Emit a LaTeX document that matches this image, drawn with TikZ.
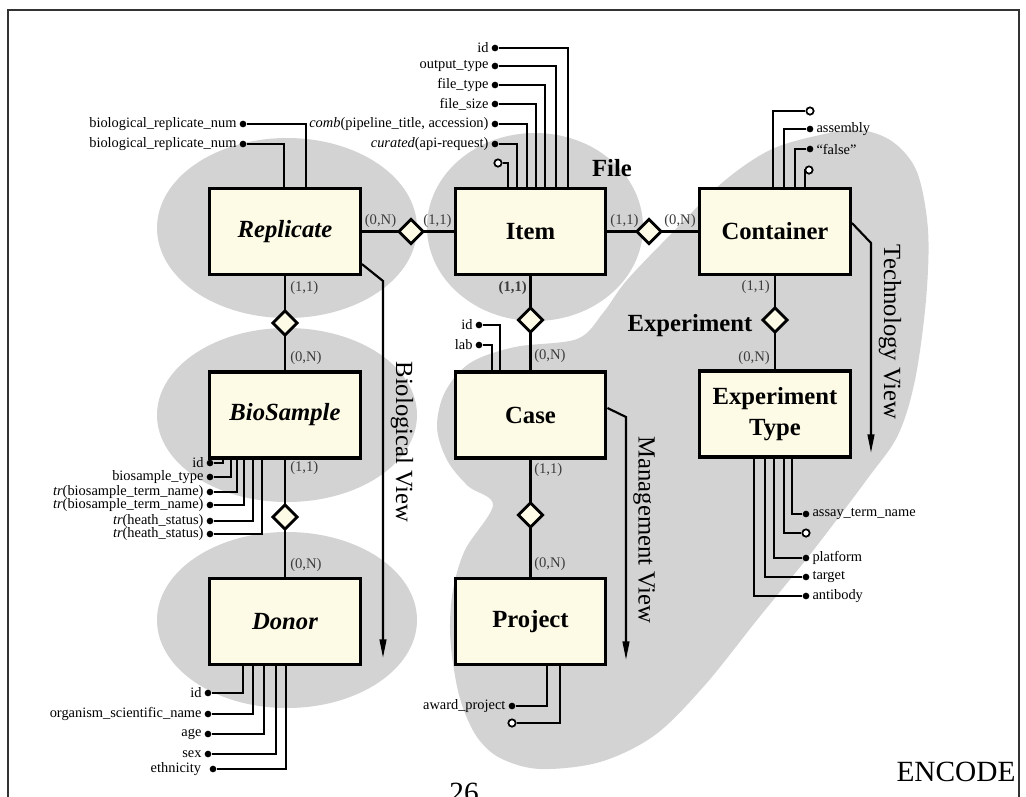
\documentclass[tikz,border=0pt]{standalone}
\usepackage{fontspec}
\setmainfont{Liberation Serif}
\usetikzlibrary{shapes.geometric,arrows.meta,calc}

\definecolor{blobgray}{RGB}{211,211,211}
\definecolor{entfill}{RGB}{253,250,230}
\definecolor{cardgray}{RGB}{60,60,60}

\begin{document}
\begin{tikzpicture}[x=0.75pt,y=-0.75pt,
  entity/.style={draw=black, line width=2.4pt, fill=entfill, minimum width=113pt,
    minimum height=64.5pt, inner sep=0pt, align=center,
    font=\fontsize{18.5}{23}\selectfont\bfseries},
  rel/.style={diamond, draw=black, line width=2.2pt, fill=entfill,
    minimum width=16pt, minimum height=16pt, inner sep=0pt},
  link/.style={line width=2.2pt},
  attr/.style={line width=1.5pt},
  dot/.style={circle, fill=black, minimum size=5pt, inner sep=0pt, label distance=0pt},
  odot/.style={circle, draw=black, fill=white, line width=1.3pt, minimum size=5.5pt, inner sep=0pt},
  lbl/.style={font=\fontsize{10.8}{12}\selectfont, inner xsep=2pt, inner ysep=0pt},
  card/.style={font=\fontsize{11}{12}\selectfont, text=cardgray, inner sep=0pt},
  view/.style={line width=1.6pt, -{Triangle[length=14pt,width=5pt]}},
  viewlbl/.style={font=\fontsize{18.5}{20}\selectfont, rotate=-90, inner sep=0pt},
  title/.style={font=\fontsize{18.5}{20}\selectfont\bfseries, inner sep=0pt},
  blob/.style={fill=blobgray, draw=none}]

\useasboundingbox (0,0) rectangle (1026,797);
\clip (0,0) rectangle (1026,797);

% ---- shaded groupings ----
\fill[blob] (287,228) ellipse [x radius=130, y radius=90];
\fill[blob] (287,415) ellipse [x radius=130, y radius=87];
\fill[blob] (287,620) ellipse [x radius=130, y radius=88];
\fill[blob] (535,227) ellipse [x radius=108, y radius=94];
\fill[blob] plot[smooth cycle, tension=0.55] coordinates {
  (860,130) (893,142) (917,172) (928,230) (926,300) (915,380) (898,435)
  (868,478) (812,552) (757,620) (705,685) (655,735) (600,762) (540,769)
  (500,758) (477,737) (462,705) (454,670) (450,630) (453,590) (465,550)
  (493,505) (468,486) (447,460) (437,427) (445,392) (470,363) (515,347)
  (577,339) (603,313) (627,280) (675,230) (723,182) (770,150) (820,135)};

% ---- page frame ----
\draw[line width=1.5pt, black!80] (8,830) -- (8,9.5) -- (1019,9.5) -- (1019,830);

% ---- entities ----
\node[entity] (rep)  at (285,231.5)   {\itshape Replicate};
\node[entity] (item) at (530.5,231.5) {Item};
\node[entity] (con)  at (775,231.5)   {Container};
\node[entity] (bio)  at (285,415)     {\itshape BioSample};
\node[entity] (case) at (530.5,415)   {Case};
\node[entity] (ext)  at (775,414)     {Experiment\\Type};
\node[entity] (don)  at (285,621.5)   {\itshape Donor};
\node[entity] (proj) at (530.5,621.5) {Project};

% ---- relationships ----
\node[rel] (d1) at (411,231.5) {};
\node[rel] (d2) at (649,231.5) {};
\node[rel] (d3) at (285,323) {};
\node[rel] (d4) at (530.5,320) {};
\node[rel] (d5) at (775,320) {};
\node[rel] (d6) at (285,517) {};
\node[rel] (d7) at (530.5,515) {};

\draw[link] (rep) -- (d1) -- (item);
\draw[link] (item) -- (d2) -- (con);
\draw[link] (rep) -- (d3) -- (bio);
\draw[link] (bio) -- (d6) -- (don);
\draw[link] (item) -- (d4) -- (case);
\draw[link] (case) -- (d7) -- (proj);
\draw[link] (con) -- (d5) -- (ext);

% redraw diamonds on top of the links
\foreach \d in {d1,d2,d3,d4,d5,d6,d7} {
  \path[fill=entfill, draw=black, line width=2.2pt]
    (\d.north) -- (\d.east) -- (\d.south) -- (\d.west) -- cycle;
}

% ---- cardinalities ----
\node[card] (c1) at (380.5,221) {(0,N)};
\node[card] (c2) at (437.5,221) {(1,1)};
\node[card] (c3) at (624.5,221) {(1,1)};
\node[card] (c4) at (680,221) {(0,N)};
\node[card, anchor=west] (c5) at (290,288) {(1,1)};
\node[card, anchor=west] (c6) at (290,358) {(0,N)};
\node[card, anchor=west] (c7) at (290,468) {(1,1)};
\node[card, anchor=west] (c8) at (290,565) {(0,N)};
\node[card, anchor=east] (c9) at (527,288) {\textbf{(1,1)}};
\node[card, anchor=west] (c10) at (534,356) {(0,N)};
\node[card, anchor=west] (c11) at (534,470) {(1,1)};
\node[card, anchor=west] (c12) at (534,564) {(0,N)};
\node[card, anchor=east] (c13) at (770,287) {(1,1)};
\node[card, anchor=east] (c14) at (770,358) {(0,N)};

% ---- group titles ----
\node[title] (tfile) at (612,168) {File};
\node[title] (texp) at (690,326) {Experiment};

% ---- Item attributes ----
\node[dot, label={[lbl]left:id}] (ia1) at (495,48) {};
\node[dot, label={[lbl]left:output\_type}] (ia2) at (495,66) {};
\node[dot, label={[lbl]left:file\_type}] (ia3) at (495,85) {};
\node[dot, label={[lbl]left:file\_size}] (ia4) at (495,104) {};
\node[dot, label={[lbl]left:\textit{comb}(pipeline\_title, accession)}] (ia5) at (495,124) {};
\node[dot, label={[lbl]left:\textit{curated}(api-request)}] (ia6) at (495,144) {};
\node[odot] (ia7) at (498,163) {};
\draw[attr] (ia1) -| ($(item.north)+(37.5,0)$);
\draw[attr] (ia2) -| ($(item.north)+(25.5,0)$);
\draw[attr] (ia3) -| ($(item.north)+(14.5,0)$);
\draw[attr] (ia4) -| ($(item.north)+(5.5,0)$);
\draw[attr] (ia5) -| ($(item.north)+(-3.5,0)$);
\draw[attr] (ia6) -| ($(item.north)+(-13.5,0)$);
\draw[attr] (ia7) -| ($(item.north)+(-22.5,0)$);

% ---- Replicate attributes ----
\node[dot, label={[lbl]left:biological\_replicate\_num}] (ra1) at (243,124) {};
\node[dot, label={[lbl]left:biological\_replicate\_num}] (ra2) at (243,144) {};
\draw[attr] (ra1) -| ($(rep.north)+(21,0)$);
\draw[attr] (ra2) -| ($(rep.north)+(-1,0)$);

% ---- BioSample attributes ----
\node[dot, label={[lbl]left:id}] (ba1) at (210,463) {};
\node[dot, label={[lbl]left:biosample\_type}] (ba2) at (210,477) {};
\node[dot, label={[lbl]left:\textit{tr}(biosample\_term\_name)}] (ba3) at (210,492) {};
\node[dot, label={[lbl]left:\textit{tr}(biosample\_term\_name)}] (ba4) at (210,505) {};
\node[dot, label={[lbl]left:\textit{tr}(heath\_status)}] (ba5) at (210,521) {};
\node[dot, label={[lbl]left:\textit{tr}(heath\_status)}] (ba6) at (210,534) {};
\draw[attr] (ba1) -| ($(bio.south)+(-62,0)$);
\draw[attr] (ba2) -| ($(bio.south)+(-54,0)$);
\draw[attr] (ba3) -| ($(bio.south)+(-48,0)$);
\draw[attr] (ba4) -| ($(bio.south)+(-41,0)$);
\draw[attr] (ba5) -| ($(bio.south)+(-32,0)$);
\draw[attr] (ba6) -| ($(bio.south)+(-23,0)$);

% ---- Donor attributes ----
\node[dot, label={[lbl]left:id}] (da1) at (208,693) {};
\node[dot, label={[lbl]left:organism\_scientific\_name}] (da2) at (208,714) {};
\node[dot, label={[lbl]left:age}] (da3) at (208,734) {};
\node[dot, label={[lbl]left:sex}] (da4) at (208,754) {};
\node[dot, label={[lbl,xshift=-4pt]left:ethnicity}] (da5) at (213,769) {};
\draw[attr] (da1) -| ($(don.south)+(-42,0)$);
\draw[attr] (da2) -| ($(don.south)+(-32,0)$);
\draw[attr] (da3) -| ($(don.south)+(-21,0)$);
\draw[attr] (da4) -| ($(don.south)+(-9,0)$);
\draw[attr] (da5) -| ($(don.south)+(1,0)$);

% ---- Container attributes ----
\node[odot] (ca1) at (810,111) {};
\node[dot, label={[lbl]right:assembly}] (ca2) at (810,129) {};
\node[dot, label={[lbl]right:“false”}] (ca3) at (810,149) {};
\node[odot] (ca4) at (809,170) {};
\draw[attr] (ca1) -| ($(con.north)+(-2,0)$);
\draw[attr] (ca2) -| ($(con.north)+(9,0)$);
\draw[attr] (ca3) -| ($(con.north)+(20,0)$);
\draw[attr] (ca4) -| ($(con.north)+(30,0)$);

% ---- Experiment Type attributes ----
\node[dot, label={[lbl]right:assay\_term\_name}] (ea1) at (806,514) {};
\node[odot] (ea2) at (806,533) {};
\node[dot, label={[lbl]right:platform}] (ea3) at (806,558) {};
\node[dot, label={[lbl]right:target}] (ea4) at (806,577) {};
\node[dot, label={[lbl]right:antibody}] (ea5) at (806,596) {};
\draw[attr] (ea1) -| ($(ext.south)+(17,0)$);
\draw[attr] (ea2) -| ($(ext.south)+(9,0)$);
\draw[attr] (ea3) -| ($(ext.south)+(-1,0)$);
\draw[attr] (ea4) -| ($(ext.south)+(-10,0)$);
\draw[attr] (ea5) -| ($(ext.south)+(-21,0)$);

% ---- Case attributes ----
\node[dot, label={[lbl]left:id}] (sa1) at (479,325) {};
\node[dot, label={[lbl]left:lab}] (sa2) at (479,345) {};
\draw[attr] (sa1) -| ($(case.north)+(-31,0)$);
\draw[attr] (sa2) -| ($(case.north)+(-39,0)$);

% ---- Project attributes ----
\node[dot, label={[lbl]left:award\_project}] (pa1) at (512,706) {};
\node[odot] (pa2) at (512,723) {};
\draw[attr] (pa1) -| ($(proj.south)+(16,0)$);
\draw[attr] (pa2) -| ($(proj.south)+(29,0)$);

% ---- views ----
\coordinate (bioK) at (383,281);
\coordinate (bioE) at (383,658);
\draw[view] ($(rep.south east)+(0,-12)$) -- (bioK) -- (bioE);
\coordinate (manK) at (626,417);
\coordinate (manE) at (626,660);
\draw[view] ($(case.east)+(0,-7)$) -- (manK) -- (manE);
\coordinate (tecK) at (871,243);
\coordinate (tecE) at (871,453);
\draw[view] ($(con.east)+(0,-8.5)$) -- (tecK) -- (tecE);

\node[viewlbl] (vbio) at (402,442) {Biological View};
\node[viewlbl] (vman) at (644,530) {Management View};
\node[viewlbl] (vtec) at (890,332) {Technology View};

% ---- footer ----
\node[font=\fontsize{22}{24}\selectfont, inner sep=0pt] (enc) at (956,772) {ENCODE};
\node[font=\fontsize{22}{24}\selectfont, inner sep=0pt, anchor=base] (pg) at (464,802) {26};

\end{tikzpicture}
\end{document}
